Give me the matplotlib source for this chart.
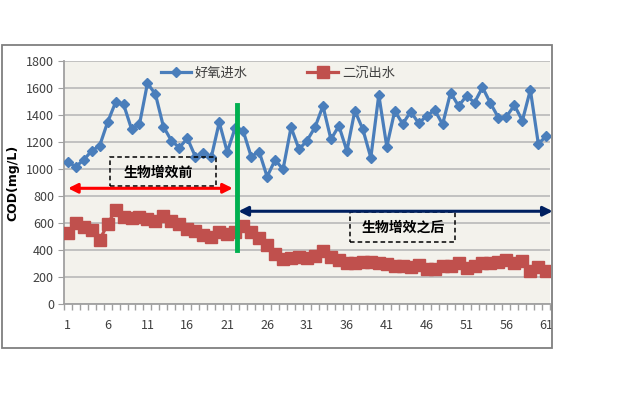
import matplotlib
matplotlib.use("Agg")
import matplotlib.pyplot as plt
from matplotlib.patches import Rectangle
import numpy as np

plt.rcParams['font.family'] = ['Noto Sans CJK SC', 'DejaVu Sans']

days = list(range(1, 62))
influent = [1054, 1017, 1067, 1134, 1171, 1346, 1494, 1480, 1297, 1331,
            1635, 1554, 1314, 1210, 1158, 1228, 1092, 1121, 1087, 1346,
            1126, 1306, 1282, 1092, 1129, 943, 1067, 998, 1309, 1146,
            1210, 1309, 1467, 1220, 1319, 1134, 1432, 1294, 1084, 1549,
            1166, 1430, 1334, 1425, 1339, 1393, 1437, 1331, 1566, 1467,
            1541, 1492, 1605, 1487, 1380, 1388, 1472, 1358, 1586, 1186,
            1245]
effluent = [528, 598, 573, 548, 474, 590, 697, 647, 635, 647,
            630, 615, 654, 615, 590, 556, 541, 511, 499, 531,
            519, 531, 575, 536, 487, 437, 368, 331, 343, 351,
            338, 356, 393, 351, 326, 301, 306, 314, 314, 306,
            296, 284, 282, 276, 289, 259, 259, 282, 284, 301,
            269, 284, 306, 301, 314, 326, 306, 319, 245, 276,
            245]
series_names = ['好氧进水', '二沉出水']
yticks = list(range(0, 1801, 200))
xtick_labels = [str(v) for v in range(1, 62, 5)]
label_before = '生物增效前'
label_after = '生物增效之后'

W, H = 624, 395
fig = plt.figure(figsize=(W / 100, H / 100), dpi=100)
fig.patch.set_facecolor('white')

# outer chart frame
fig.patches.append(Rectangle((2 / W, 1 - 348 / H), (552 - 2) / W, (348 - 45) / H,
                             transform=fig.transFigure, fill=False,
                             edgecolor='#7f7f7f', linewidth=1.3))

left, right, top, bottom = 63.7, 550.3, 61, 304
ax = fig.add_axes([left / W, 1 - bottom / H, (right - left) / W, (bottom - top) / H])
ax.set_facecolor('#f3f2ec')

ax.plot(days, influent, color='#4a7ebb', lw=2.3, marker='D', ms=5.5,
        mfc='#4a7ebb', mec='#4a7ebb', label=series_names[0], zorder=3)
ax.plot(days, effluent, color='#c0504d', lw=2.3, marker='s', ms=8.5,
        mfc='#c0504d', mec='#c0504d', label=series_names[1], zorder=3)

ax.set_xlim(0.5, 61.5)
ax.set_ylim(0, 1800)
ax.set_yticks(yticks)
ax.yaxis.grid(True, color='#bdbdbd', lw=1.3)
ax.set_axisbelow(True)
ax.set_xticks(range(1, 62, 5))
ax.set_xticklabels(xtick_labels)
ax.set_xticks(np.arange(0.5, 62, 1), minor=True)
ax.tick_params(axis='x', which='major', length=0, pad=11, labelsize=9, colors='#404040')
ax.tick_params(axis='x', which='minor', length=4, color='#a0a0a0', width=1)
ax.tick_params(axis='y', which='major', length=4, color='#a0a0a0', labelsize=9,
               colors='#404040', pad=3)
for s in ['top', 'right']:
    ax.spines[s].set_visible(False)
for s in ['left', 'bottom']:
    ax.spines[s].set_color('#a0a0a0')
    ax.spines[s].set_linewidth(1.3)
for lab in ax.get_yticklabels() + ax.get_xticklabels():
    lab.set_color('#404040')

ax.set_ylabel('COD(mg/L)', fontsize=9, fontweight='bold', labelpad=5, family='DejaVu Sans')

leg = ax.legend(loc='center', bbox_to_anchor=(0.44, 0.95), ncol=2, frameon=False,
                fontsize=9.5, handlelength=2.3, columnspacing=4.5, handletextpad=0.3)
for t in leg.get_texts():
    t.set_color('#404040')

# green divider
ax.plot([22.26, 22.26], [400, 1474], color='#00b050', lw=3.5, zorder=4, clip_on=False)

# red double arrow (before)
ax.annotate('', xy=(1.04, 857), xytext=(21.7, 857),
            arrowprops=dict(arrowstyle='<|-|>', color='#ff0000', lw=2.2,
                            mutation_scale=14, shrinkA=0, shrinkB=0),
            annotation_clip=False, zorder=5)
# navy double arrow (after)
ax.annotate('', xy=(22.4, 687), xytext=(61.8, 687),
            arrowprops=dict(arrowstyle='<|-|>', color='#002060', lw=2.2,
                            mutation_scale=14, shrinkA=0, shrinkB=0),
            annotation_clip=False, zorder=5)

# dashed boxes with labels
ax.add_patch(Rectangle((6.3, 874), 19.6 - 6.3, 1089 - 874, fill=False,
                       edgecolor='black', lw=1.1, ls=(0, (3, 2)), zorder=4))
ax.text(12.3, 975, label_before, ha='center', va='center', fontsize=10,
        fontweight='bold', color='black', zorder=5)
ax.add_patch(Rectangle((36.4, 457), 49.6 - 36.4, 684 - 457, fill=False,
                       edgecolor='black', lw=1.1, ls=(0, (3, 2)), zorder=4))
ax.text(43.0, 563, label_after, ha='center', va='center', fontsize=10,
        fontweight='bold', color='black', zorder=5)

fig.savefig('out.png', dpi=100)
